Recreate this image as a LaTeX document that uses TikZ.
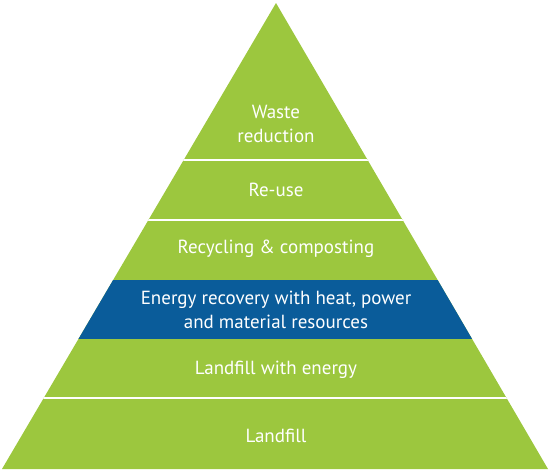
\documentclass[tikz,border=0pt]{standalone}
\usepackage{fontspec}
\setmainfont{PT Sans}
\definecolor{pgreen}{HTML}{9CC73E}
\definecolor{pblue}{HTML}{0A5C9A}
\begin{document}
\begin{tikzpicture}[x=1pt,y=-1pt,
  lbl/.style={text=white,font=\fontsize{19}{24}\selectfont,align=center,inner sep=0pt},
  sep/.style={white,line width=2pt}]
\useasboundingbox (0,0) rectangle (550,472);
\coordinate (apex) at (276,3);
\coordinate (bl) at (2,469);
\coordinate (br) at (548,469);
\fill[pgreen] (apex) -- (bl) -- (br) -- cycle;
\begin{scope}
\clip (apex) -- (bl) -- (br) -- cycle;
\fill[pblue] (0,280) rectangle (550,339);
\draw[sep] (0,160) -- (550,160);
\draw[sep] (0,219.5) -- (550,219.5);
\draw[sep] (0,398) -- (550,398);
\end{scope}
\node[lbl] (t1) at (276,124) {Waste\\reduction};
\node[lbl] (t2) at (276,190) {Re-use};
\node[lbl] (t3) at (276,249) {Recycling \& composting};
\node[lbl] (t4) at (276,310) {Energy recovery with heat, power\\and material resources};
\node[lbl] (t5) at (276,370) {Landfill with energy};
\node[lbl] (t6) at (276,436) {Landfill};
\end{tikzpicture}
\end{document}
